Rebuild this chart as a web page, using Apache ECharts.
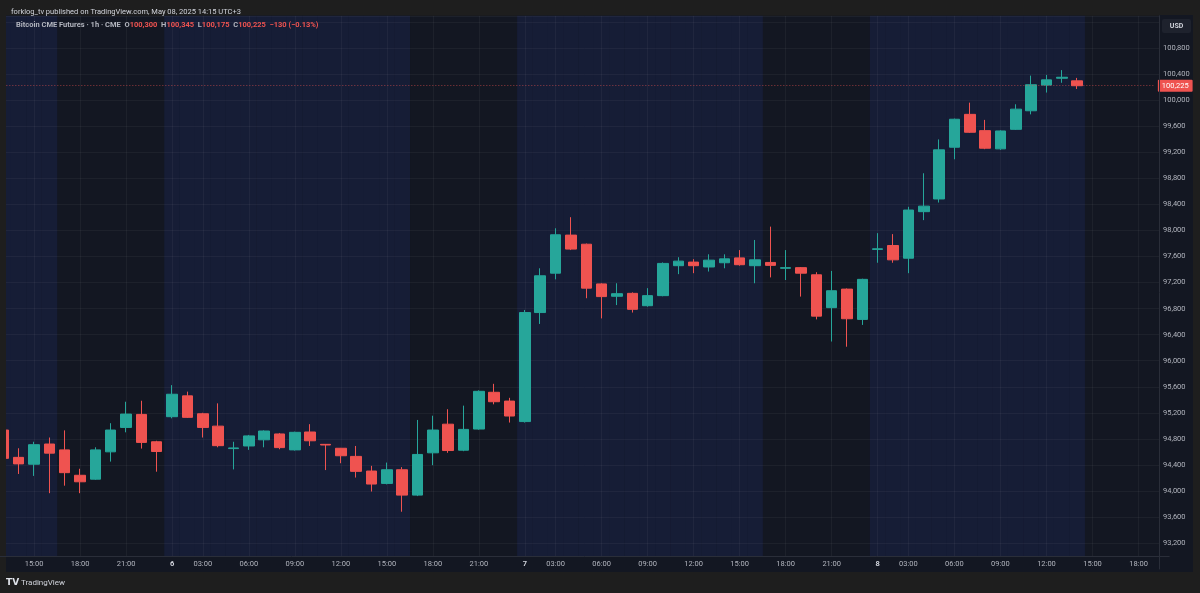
<!DOCTYPE html>
<html><head><meta charset="utf-8">
<script src="https://cdn.jsdelivr.net/npm/echarts@6/dist/echarts.min.js"></script>
<style>html,body{margin:0;padding:0;background:#1e1e1e;}#c{width:1200px;height:593px;}</style>
</head><body><div id="c"></div>
<script>
// ---- time axis (CME 1h bars, daily break 00:00 UTC+3) ----
const dayNames = ['5', '6', '7', '8'];          // May 5..8, 2025
const dayFirstHour = [12, 1, 1, 1];
const dayLastHour = [23, 23, 23, 20];
const firstBar = 1;                              // first candle = May 5 13:00

// ---- OHLC, May 5 13:00 .. May 8 14:00 (UTC+3) ----
const opens = [
  94935, 94515, 94410, 94720, 94630, 94240, 94180, 94600, 94975, 95175, 94755,
  95140, 95460, 95185, 94995, 94650, 94690, 94785, 94875, 94630, 94905, 94715, 94655,
  94530, 94305, 94115, 94325, 93935, 94585, 95025, 94625, 94950, 95515, 95380,
  95065, 96740, 97345, 97930, 97790, 97180, 96990, 97035, 96845, 97000, 97460, 97515,
  97440, 97505, 97580, 97460, 97510, 97420, 97430, 97320, 96815, 97100, 96635,
  97710, 97770, 97575, 98290, 98485, 99280, 99785, 99535, 99255, 99555, 99840, 100235,
  100340, 100300
];
const closes = [
  94500, 94415, 94710, 94580, 94280, 94140, 94630, 94935, 95180, 94745, 94605,
  95485, 95130, 94975, 94695, 94660, 94845, 94920, 94665, 94900, 94770, 94705, 94540,
  94300, 94105, 94325, 93935, 94560, 94935, 94620, 94945, 95530, 95370, 95150,
  96740, 97305, 97935, 97715, 97115, 96985, 97030, 96790, 97000, 97495, 97530, 97460,
  97545, 97565, 97475, 97550, 97465, 97430, 97345, 96685, 97075, 96645, 97250,
  97720, 97550, 98315, 98375, 99240, 99710, 99510, 99265, 99530, 99865, 100240, 100315,
  100355, 100225
];
const lows = [
  94480, 94260, 94230, 93965, 94080, 93965, 94170, 94450, 94900, 94650, 94295,
  95115, 95120, 94820, 94670, 94330, 94630, 94670, 94640, 94620, 94690, 94320, 94425,
  94205, 93990, 94100, 93680, 93920, 94395, 94585, 94610, 94940, 95330, 95050,
  95050, 96565, 97250, 97700, 96960, 96650, 96855, 96740, 96830, 96990, 97330, 97345,
  97370, 97420, 97460, 97190, 97280, 97240, 96985, 96635, 96295, 96215, 96550,
  97505, 97505, 97345, 98160, 98430, 99095, 99500, 99250, 99240, 99545, 99785, 100120,
  100270, 100175
];
const highs = [
  94960, 94655, 94755, 94820, 94930, 94340, 94670, 95040, 95370, 95385, 94770,
  95625, 95525, 95200, 95345, 94755, 94860, 94930, 94890, 94910, 95025, 94720, 94660,
  94690, 94385, 94435, 94365, 95090, 95155, 95255, 95310, 95545, 95645, 95430,
  96780, 97420, 98035, 98205, 97800, 97190, 97190, 97050, 97115, 97510, 97590, 97560,
  97635, 97635, 97700, 97855, 98060, 97700, 97440, 97360, 97380, 97110, 97260,
  97960, 97945, 98365, 98880, 99400, 99720, 99965, 99700, 99540, 99940, 100380, 100390,
  100465, 100345
];

// ---- price axis ----
const priceMin = 92800, priceMax = 101300, priceStep = 400;
const priceLabelMin = 93200, priceLabelMax = 100800;
const sessionEndHour = 16;   // highlighted session: 01:00 .. 16:00 bars

// ---- build categories ----
const cats = [], hours = [], tickLabels = [];
dayNames.forEach((d, k) => {
  for (let h = dayFirstHour[k]; h <= dayLastHour[k]; h++) {
    cats.push('May ' + d + ' ' + String(h).padStart(2, '0') + ':00');
    hours.push(h);
    tickLabels.push(h === 1 ? '{d|' + d + '}' : (h % 3 === 0 ? String(h).padStart(2, '0') + ':00' : ''));
  }
});
const nBars = opens.length;
const candles = cats.map((c, i) => {
  const j = i - firstBar;
  return (j >= 0 && j < nBars) ? [opens[j], closes[j], lows[j], highs[j]] : ['-', '-', '-', '-'];
});
const session = cats.map((c, i) => {
  const j = i - firstBar;
  return (j >= 0 && j < nBars && hours[i] <= sessionEndHour) ? priceMax : '-';
});
const lastClose = closes[nBars - 1];
const prevClose = closes[nBars - 2];
const fmt = v => Number(v).toLocaleString('en-US');
const chg = lastClose - prevClose;
const chgPct = (chg / prevClose * 100).toFixed(2);
const minus = s => String(s).replace('-', '\u2212');

const UP = '#26a69a', DOWN = '#ef5350';
const OUTER = '#1e1e1e', PANE = '#131722', SESSION = '#161d36';
const GRIDC = 'rgba(255,255,255,0.045)';
const FONT = 'Roboto, "Open Sans", sans-serif';
const showTick = i => tickLabels[i] !== '';

const chart = echarts.init(document.getElementById('c'), null, {renderer: 'canvas'});
chart.setOption({
  animation: false,
  backgroundColor: OUTER,
  title: [
    {text: 'forklog_tv published on TradingView.com, May 08, 2025 14:15 UTC+3', left: 6, top: 3, z: 12,
     textStyle: {color: '#d1d4dc', fontSize: 7.5, fontWeight: 'normal', fontFamily: FONT}},
    {text: '{n|Bitcoin CME Futures \u00b7 1h \u00b7 CME}  {l|O}{v|' + fmt(opens[nBars-1]) + '}  {l|H}{v|' + fmt(highs[nBars-1]) +
           '}  {l|L}{v|' + fmt(lows[nBars-1]) + '}  {l|C}{v|' + fmt(lastClose) + '}  {v|' + minus(chg) + ' (' + minus(chgPct) + '%)}',
     left: 11, top: 16, z: 12,
     textStyle: {fontSize: 7.5, fontFamily: FONT, rich: {
       n: {color: '#b2b5be', fontSize: 7.5, fontFamily: FONT},
       l: {color: '#b2b5be', fontSize: 7.5, fontFamily: FONT},
       v: {color: DOWN, fontSize: 7.5, fontFamily: FONT}}}}
  ],
  grid: {left: -12.0, right: 30.8, top: 15.75, bottom: 24.0, show: true, backgroundColor: PANE, borderWidth: 0, z: 0,
         containLabel: false, outerBoundsMode: 'none'},
  xAxis: [
    {type: 'category', data: cats, boundaryGap: false, position: 'bottom', z: 2,
     axisLine: {show: false}, axisTick: {show: false}, axisLabel: {show: false},
     splitLine: {show: true, interval: showTick, lineStyle: {color: GRIDC, width: 1}}},
    {type: 'category', data: cats, boundaryGap: false, position: 'bottom', offset: -13, z: 10,
     axisLine: {show: true, lineStyle: {color: '#2a2e39'}}, axisTick: {show: false},
     axisLabel: {show: true, interval: showTick, margin: 4, color: '#b2b5be', fontSize: 7.5, fontFamily: FONT,
       formatter: (v, i) => tickLabels[i],
       rich: {d: {color: '#d1d4dc', fontWeight: 'bold', fontSize: 7.5, fontFamily: FONT}}},
     splitLine: {show: false}}
  ],
  yAxis: [
    {type: 'value', min: priceMin, max: priceMax, interval: priceStep, position: 'right', z: 2,
     axisLine: {show: false}, axisTick: {show: false}, axisLabel: {show: false},
     splitLine: {show: true, lineStyle: {color: GRIDC, width: 1}}},
    {type: 'value', min: priceMin, max: priceMax, interval: priceStep, position: 'right', offset: -10.2, z: 10,
     axisLine: {show: true, lineStyle: {color: '#2a2e39'}}, axisTick: {show: false},
     axisLabel: {show: true, margin: 4, color: '#b2b5be', fontSize: 7.5, fontFamily: FONT,
       formatter: v => (v >= priceLabelMin && v <= priceLabelMax) ? fmt(v) : ''},
     splitLine: {show: false}}
  ],
  graphic: {elements: [
    {type: 'rect', shape: {x: 0, y: 0, width: 6, height: 593}, style: {fill: OUTER}, z: 6, silent: true},
    {type: 'rect', shape: {x: 0, y: 0, width: 1200, height: 15}, style: {fill: OUTER}, z: 4, silent: true},
    {type: 'rect', shape: {x: 1159, y: 15, width: 34, height: 557}, style: {fill: PANE}, z: 4, silent: true},
    {type: 'rect', shape: {x: 1193, y: 0, width: 7, height: 593}, style: {fill: OUTER}, z: 6, silent: true},
    {type: 'rect', shape: {x: 6, y: 556, width: 1153, height: 16}, style: {fill: PANE}, z: 4, silent: true},
    {type: 'rect', shape: {x: 0, y: 572, width: 1200, height: 21}, style: {fill: OUTER}, z: 4, silent: true},
    {type: 'rect', shape: {x: 1162, y: 19, width: 29, height: 14, r: 2}, style: {fill: '#1e222d'}, z: 11, silent: true},
    {type: 'text', x: 1176.5, y: 26, z: 12, silent: true,
     style: {text: 'USD', fill: '#d1d4dc', font: 'bold 7px ' + FONT, align: 'center', verticalAlign: 'middle'}},
    {type: 'text', x: 6, y: 583, z: 12, silent: true,
     style: {text: 'TV', fill: '#e0e3eb', font: 'bold 9px "DejaVu Sans", sans-serif', align: 'left', verticalAlign: 'middle'}},
    {type: 'text', x: 21, y: 583, z: 12, silent: true,
     style: {text: 'TradingView', fill: '#d1d4dc', font: '8px ' + FONT, align: 'left', verticalAlign: 'middle'}}
  ]},
  series: [
    {type: 'bar', name: 'session', data: session, xAxisIndex: 0, yAxisIndex: 0, barWidth: '102%', z: 1,
     itemStyle: {color: SESSION}, silent: true, emphasis: {disabled: true}},
    {type: 'candlestick', name: 'BTC1!', data: candles, xAxisIndex: 0, yAxisIndex: 0, barWidth: 11, z: 3, clip: false,
     itemStyle: {color: UP, color0: DOWN, borderColor: UP, borderColor0: DOWN, borderWidth: 1},
     emphasis: {disabled: true},
     markLine: {silent: true, z: 5, symbol: ['none', 'none'], animation: false,
       data: [[{coord: [cats[firstBar], lastClose]}, {coord: [cats[cats.length - 2], lastClose]}]],
       lineStyle: {color: 'rgba(239,83,80,0.6)', type: [1, 2], width: 1},
       label: {show: true, position: 'end', distance: 4, formatter: fmt(lastClose), color: '#ffffff',
         backgroundColor: DOWN, padding: [2, 4, 2, 4], fontSize: 7.5, fontFamily: FONT, borderRadius: 1},
       emphasis: {disabled: true}}}
  ]
});
</script></body></html>
